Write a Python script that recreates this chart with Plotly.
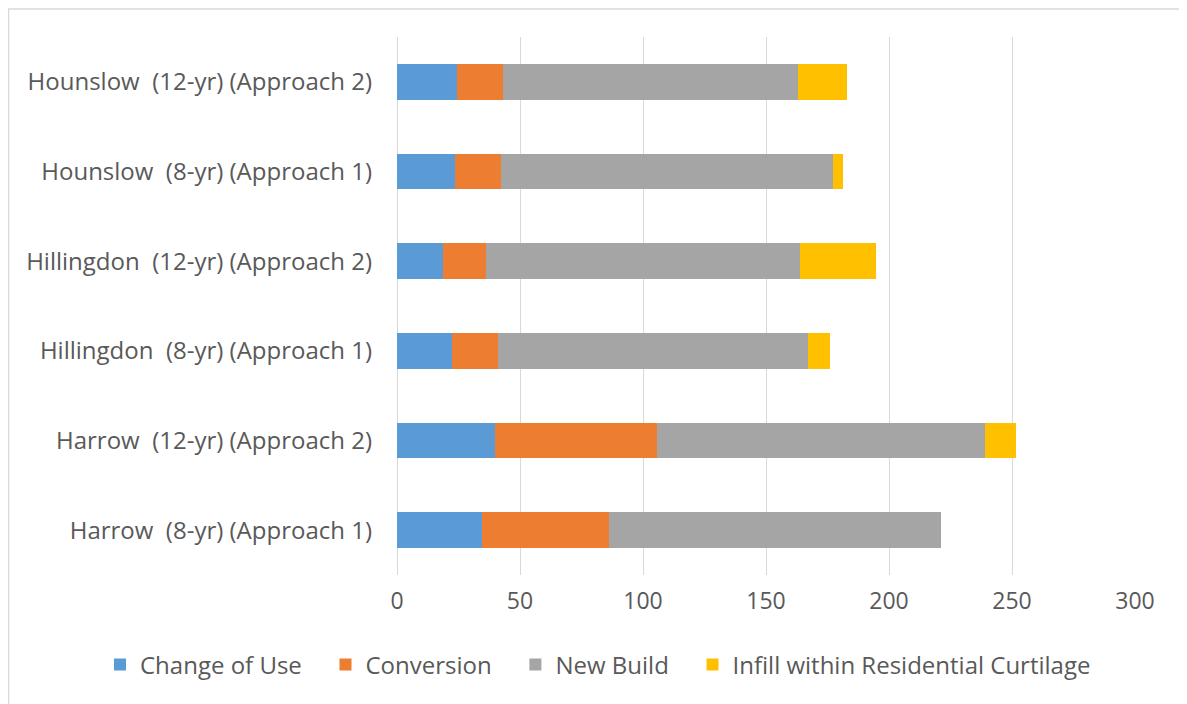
import plotly.graph_objects as go

# categories, bottom to top
boroughs = [
    "Harrow  (8-yr) (Approach 1)",
    "Harrow  (12-yr) (Approach 2)",
    "Hillingdon  (8-yr) (Approach 1)",
    "Hillingdon  (12-yr) (Approach 2)",
    "Hounslow  (8-yr) (Approach 1)",
    "Hounslow  (12-yr) (Approach 2)",
]
labels = [b.replace("  ", "\u00a0 ") for b in boroughs]

change_of_use = [34.6, 39.7, 22.3, 18.8, 23.6, 24.5]
conversion = [51.7, 65.9, 18.8, 17.4, 18.7, 18.6]
new_build = [134.9, 133.5, 126.0, 127.6, 134.8, 120.0]
infill = [0, 12.4, 9.1, 31.0, 4.1, 20.0]

series = [
    ("Change of Use", change_of_use, "#5B9BD5"),
    ("Conversion", conversion, "#ED7D31"),
    ("New Build", new_build, "#A5A5A5"),
    ("Infill within Residential Curtilage", infill, "#FFC000"),
]

font_col = "#595959"

# page body adds 8px offset, so the figure is drawn from (8, 8)
W, H = 1179, 696
ml, mr, mt, mb = 389, 52, 29, 129
pw = W - ml - mr
ph = H - mt - mb

fig = go.Figure()
for name, vals, col in series:
    fig.add_trace(
        go.Bar(
            y=labels,
            x=vals,
            name=name + "\u00a0" * 3,
            orientation="h",
            marker=dict(color=col, line=dict(width=0)),
        )
    )

fig.update_layout(
    barmode="stack",
    bargap=0.6,
    width=W,
    height=H,
    margin=dict(l=ml, r=mr, t=mt, b=mb),
    paper_bgcolor="white",
    plot_bgcolor="white",
    font=dict(family="Open Sans", size=24, color=font_col),
    showlegend=True,
    legend=dict(
        orientation="h",
        x=(100 - 397) / pw,
        xanchor="left",
        y=(575 - 665) / ph,
        yanchor="middle",
        font=dict(size=24, color=font_col),
        traceorder="normal",
        itemwidth=30,
    ),
    xaxis=dict(
        range=[0, 300],
        dtick=50,
        showgrid=True,
        gridcolor="#d9d9d9",
        gridwidth=1,
        zeroline=True,
        zerolinecolor="#d9d9d9",
        zerolinewidth=1,
        showline=False,
        ticks="",
        ticklabelstandoff=10,
        tickfont=dict(size=23),
    ),
    yaxis=dict(
        showgrid=False,
        ticks="",
        ticklabelstandoff=24,
        showline=False,
    ),
    shapes=[
        dict(
            type="rect",
            xref="paper",
            yref="paper",
            x0=(8.5 - 397) / pw,
            x1=(1184.5 - 397) / pw,
            y0=(575 - 720) / ph,
            y1=(575 - 9) / ph,
            line=dict(color="#d9d9d9", width=1.5),
            fillcolor="rgba(0,0,0,0)",
            layer="below",
        )
    ],
)

fig.write_html("out.html")
